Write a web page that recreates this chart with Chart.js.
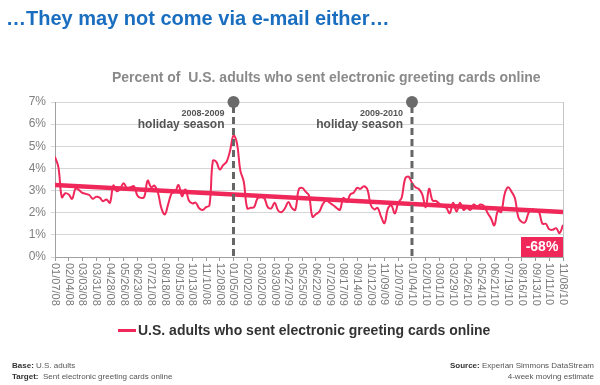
<!DOCTYPE html>
<html>
<head>
<meta charset="utf-8">
<script src="https://cdn.jsdelivr.net/npm/chart.js@4.4.1/dist/chart.umd.min.js"></script>
<style>
  body { margin: 0; background: #fff; font-family: Arial, "Liberation Sans", sans-serif; }
  #wrap { position: relative; width: 600px; height: 385px; overflow: hidden; }
  #chart { position: absolute; left: 0; top: 0; }
  .txt { position: absolute; white-space: pre; }
  #heading { left: 6px; top: 6px; font-size: 20px; font-weight: bold; color: #1a6ec0; line-height: 24px; }
  #subtitle { left: 112px; top: 69px; font-size: 14px; font-weight: bold; color: #8a8a8a; line-height: 16px; }
  #legend { left: 118px; top: 321px; font-size: 14px; font-weight: bold; color: #333; line-height: 18px; }
  #legend .swatch { display: inline-block; width: 18px; height: 3px; background: #f0285a; vertical-align: middle; margin-right: 2px; position: relative; top: -1px; }
  .foot { font-size: 8px; color: #555; line-height: 11px; }
  .foot b { color: #333; }
  #footL { left: 12px; top: 360px; }
  #footR { right: 6px; top: 360px; text-align: right; }
</style>
</head>
<body>
<div id="wrap">
  <canvas id="chart" width="600" height="385"></canvas>
  <div class="txt" id="heading">…They may not come via e-mail either…</div>
  <div class="txt" id="subtitle">Percent of  U.S. adults who sent electronic greeting cards online</div>
  <div class="txt" id="legend"><span class="swatch"></span>U.S. adults who sent electronic greeting cards online</div>
  <div class="txt foot" id="footL"><b>Base:</b> U.S. adults
<b>Target:</b>  Sent electronic greeting cards online</div>
  <div class="txt foot" id="footR"><b>Source:</b> Experian Simmons DataStream
4-week moving estimate</div>
</div>
<script>
// tick labels, one every 4 weeks
const tickLabels = [
    '01/07/08', '02/04/08', '03/03/08', '03/31/08', '04/28/08', '05/26/08', '06/23/08', '07/21/08',
    '08/18/08', '09/15/08', '10/13/08', '11/10/08', '12/08/08', '01/05/09', '02/02/09', '03/02/09',
    '03/30/09', '04/27/09', '05/25/09', '06/22/09', '07/20/09', '08/17/09', '09/14/09', '10/12/09',
    '11/09/09', '12/07/09', '01/04/10', '02/01/10', '03/01/10', '03/29/10', '04/26/10', '05/24/10',
    '06/21/10', '07/19/10', '08/16/10', '09/13/10', '10/11/10', '11/08/10'
];

// weekly % of adults
const weeklyPct = [
    4.53, 4.05, 2.70, 2.88, 2.82, 2.63, 3.10, 3.02, 2.90, 2.85,
    2.80, 2.63, 2.72, 2.68, 2.52, 2.60, 2.45, 3.23, 2.97, 3.08,
    3.33, 3.10, 3.15, 3.20, 2.78, 2.67, 2.72, 3.45, 3.15, 3.22,
    2.90, 2.20, 1.92, 2.40, 2.88, 2.95, 3.25, 2.75, 3.05, 2.55,
    2.42, 2.45, 2.20, 2.12, 2.25, 2.33, 4.35, 4.30, 3.95, 4.15,
    4.30, 4.80, 5.48, 5.15, 3.90, 3.40, 2.20, 2.22, 2.25, 2.65,
    2.70, 2.65, 2.25, 2.20, 2.45, 2.10, 2.03, 2.20, 2.48, 2.22,
    2.13, 3.05, 3.12, 2.95, 2.78, 1.82, 1.93, 2.05, 2.38, 2.55,
    2.45, 2.35, 2.22, 2.13, 2.67, 2.48, 2.82, 2.90, 3.12, 3.08,
    3.20, 3.05, 2.35, 2.15, 2.22, 1.82, 1.53, 2.20, 2.33, 1.97,
    2.45, 2.68, 3.53, 3.63, 3.35, 3.15, 3.07, 2.83, 2.25, 3.08,
    2.55, 2.53, 2.40, 2.30, 2.22, 1.98, 2.45, 2.05, 2.45, 2.13,
    2.22, 2.13, 2.37, 2.28, 2.37, 2.30, 2.00, 1.75, 1.43, 2.08,
    2.03, 2.85, 3.15, 2.95, 2.65, 1.78, 1.58, 1.58, 2.00, 2.15,
    2.10, 2.03, 1.50, 1.50, 1.25, 1.23, 1.30, 1.08, 1.45
];

// straight trend line, start and end
const trendStart = 3.25;
const trendEnd = 2.03;

// holiday season markers (week index) and their labels
const holidayWeeks = [52, 104];
const holidayYears = ['2008-2009', '2009-2010'];
const holidayText = 'holiday season';
const changeText = '-68%';

const yTicks = [0, 1, 2, 3, 4, 5, 6, 7];

const red = '#f0285a';
const lastWeek = weeklyPct.length - 1;

const annotations = {
    id: 'annotations',
    afterDatasetsDraw(chart) {
        const ctx = chart.ctx;
        const area = chart.chartArea;
        const xs = chart.scales.x;

        // right border of plot
        ctx.save();
        ctx.strokeStyle = '#c4c4c4';
        ctx.lineWidth = 1;
        ctx.beginPath();
        ctx.moveTo(Math.round(area.right) + 0.5, area.top);
        ctx.lineTo(Math.round(area.right) + 0.5, area.bottom);
        ctx.stroke();

        // holiday lines
        holidayWeeks.forEach((w, k) => {
            const x = xs.getPixelForValue(w);
            ctx.strokeStyle = '#666';
            ctx.lineWidth = 3;
            ctx.setLineDash([7, 4]);
            ctx.beginPath();
            ctx.moveTo(x, area.top + 4);
            ctx.lineTo(x, area.bottom);
            ctx.stroke();
            ctx.setLineDash([]);
            ctx.fillStyle = '#6b6b6b';
            ctx.beginPath();
            ctx.arc(x, area.top, 6, 0, Math.PI * 2);
            ctx.fill();

            ctx.fillStyle = '#555';
            ctx.textAlign = 'right';
            ctx.textBaseline = 'middle';
            ctx.font = 'bold 9px Arial';
            ctx.fillText(holidayYears[k], x - 9, area.top + 12);
            ctx.font = 'bold 12px Arial';
            ctx.fillText(holidayText, x - 9, area.top + 22.5);
        });

        // change box
        ctx.fillStyle = red;
        ctx.fillRect(area.right - 42, area.bottom - 20, 42, 20);
        ctx.fillStyle = '#fff';
        ctx.font = 'bold 14px Arial';
        ctx.textAlign = 'center';
        ctx.textBaseline = 'middle';
        ctx.fillText(changeText, area.right - 21, area.bottom - 9.5);
        ctx.restore();
    },
    afterDraw(chart) {
        // x labels, rotated clockwise
        const ctx = chart.ctx;
        const xs = chart.scales.x;
        ctx.save();
        ctx.fillStyle = '#7a7a7a';
        ctx.font = '11px Arial';
        ctx.textAlign = 'left';
        ctx.textBaseline = 'middle';
        tickLabels.forEach((lab, k) => {
            const x = xs.getPixelForValue(k * 4);
            ctx.save();
            ctx.translate(x, chart.chartArea.bottom + 6);
            ctx.rotate(Math.PI / 2);
            ctx.fillText(lab, 0, 0);
            ctx.restore();
        });
        ctx.restore();
    }
};

new Chart(document.getElementById('chart'), {
    type: 'line',
    data: {
        datasets: [{
            label: 'U.S. adults who sent electronic greeting cards online',
            data: weeklyPct.map((v, i) => ({ x: i, y: v })),
            borderColor: red,
            borderWidth: 2,
            pointRadius: 0,
            tension: 0.4,
            fill: false
        }, {
            label: 'trend',
            data: [{ x: 0, y: trendStart }, { x: lastWeek, y: trendEnd }],
            borderColor: red,
            borderWidth: 4.5,
            pointRadius: 0,
            tension: 0,
            fill: false
        }]
    },
    plugins: [annotations],
    options: {
        responsive: false,
        animation: false,
        devicePixelRatio: 1,
        layout: { padding: { left: 0, right: 37, top: 102, bottom: 124 } },
        plugins: {
            legend: { display: false },
            title: { display: false },
            tooltip: { enabled: false }
        },
        scales: {
            x: {
                type: 'linear',
                min: 0,
                max: lastWeek,
                afterBuildTicks: s => { s.ticks = tickLabels.map((_, k) => ({ value: k * 4 })); },
                afterFit: s => { s.height = 4; },
                ticks: { display: false },
                grid: { drawOnChartArea: false, drawTicks: true, tickLength: 4, color: '#999' },
                border: { color: '#a0a0a0', width: 1 }
            },
            y: {
                min: 0,
                max: 7,
                afterBuildTicks: s => { s.ticks = yTicks.map(v => ({ value: v })); },
                afterFit: s => { s.width = 55; },
                ticks: {
                    callback: v => v + '%',
                    color: '#7f7f7f',
                    font: { family: 'Arial', size: 12 },
                    padding: 5
                },
                grid: { color: '#d6d6d6', lineWidth: 1, tickLength: 4 },
                border: { color: '#a0a0a0', width: 1 }
            }
        }
    }
});
</script>
</body>
</html>
